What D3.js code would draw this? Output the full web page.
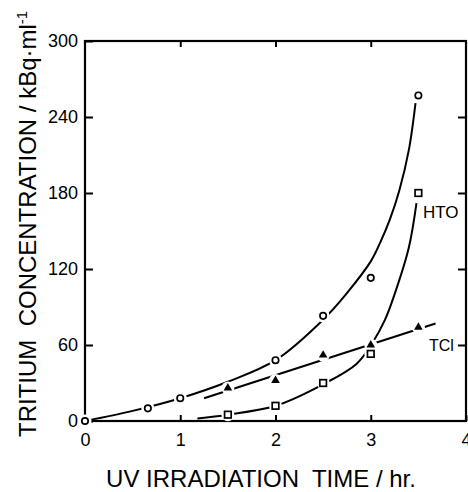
<!DOCTYPE html>
<html>
<head>
<meta charset="utf-8">
<script src="https://cdn.jsdelivr.net/npm/d3@7"></script>
<style>
  body { margin: 0; background: #fff; }
  text { font-family: "Liberation Sans", Arial, sans-serif; fill: #000; }
</style>
</head>
<body>
<div id="chart"></div>
<script>
// measured points (circles = total, squares = HTO, triangles = TCl)
const totalTime = [0, 0.66, 1, 2, 2.5, 3, 3.5];
const totalConc = [0, 10, 18, 48, 83, 113, 257];
const htoTime = [1.5, 2, 2.5, 3, 3.5];
const htoConc = [5, 12, 30, 53, 180];
const tclTime = [1.5, 2, 2.5, 3, 3.5];
const tclConc = [26, 32, 52, 60, 74];

// hand drawn fitted curves
const totalCurveX = [0, 0.5, 1, 1.5, 2, 2.5, 2.75, 3, 3.1, 3.2, 3.3, 3.4, 3.47];
const totalCurveY = [0, 8, 18, 31, 48, 80, 101, 126, 141, 159, 182, 214, 251];
const htoCurveX = [1.18, 1.5, 2, 2.5, 2.85, 3.02, 3.15, 3.25, 3.4, 3.48];
const htoCurveY = [2, 5, 12, 29, 45, 62, 80, 100, 137, 172];
const tclLineX = [1.25, 3.68];
const tclLineY = [18, 77];

const xTicks = [0, 1, 2, 3, 4];
const yTicks = [0, 60, 120, 180, 240, 300];

const W = 468, H = 492;
const svg = d3.select("#chart").append("svg")
  .attr("width", W).attr("height", H)
  .style("background", "#fff");

// scales
const x = d3.scaleLinear().domain([0, 4]).range([85, 466]);
const y = d3.scaleLinear().domain([0, 300]).range([421, 41]);

// frame
svg.append("rect")
  .attr("x", x(0)).attr("y", y(300))
  .attr("width", x(4) - x(0)).attr("height", y(0) - y(300))
  .attr("fill", "none").attr("stroke", "#000").attr("stroke-width", 2.2);

// axes, ticks point inward
function styleAxis(g) {
  g.select(".domain").remove();
  g.selectAll("line").attr("stroke", "#000").attr("stroke-width", 2);
  g.selectAll("text").style("font-size", "18px").style("font-family", "Liberation Sans, Arial, sans-serif");
}
svg.append("g")
  .attr("transform", `translate(0,${y(0)})`)
  .call(d3.axisBottom(x).tickValues(xTicks).tickSize(-6).tickPadding(12).tickFormat(d3.format("d")))
  .call(styleAxis);
svg.append("g")
  .attr("transform", `translate(${x(0)},0)`)
  .call(d3.axisLeft(y).tickValues(yTicks).tickSize(-8).tickPadding(7).tickFormat(d3.format("d")))
  .call(styleAxis);
svg.append("g")
  .attr("transform", `translate(0,${y(300)})`)
  .call(d3.axisTop(x).tickValues(xTicks.slice(1, 4)).tickSize(-6).tickFormat(""))
  .call(styleAxis);
svg.append("g")
  .attr("transform", `translate(${x(4)},0)`)
  .call(d3.axisRight(y).tickValues(yTicks.slice(1, 5)).tickSize(-8).tickFormat(""))
  .call(styleAxis);

// curves
const line = d3.line().x(d => x(d[0])).y(d => y(d[1])).curve(d3.curveCatmullRom.alpha(0.5));
const straight = d3.line().x(d => x(d[0])).y(d => y(d[1]));

svg.append("path")
  .datum(d3.zip(totalCurveX, totalCurveY))
  .attr("d", line)
  .attr("fill", "none").attr("stroke", "#000").attr("stroke-width", 2);
svg.append("path")
  .datum(d3.zip(htoCurveX, htoCurveY))
  .attr("d", line)
  .attr("fill", "none").attr("stroke", "#000").attr("stroke-width", 2);
svg.append("path")
  .datum(d3.zip(tclLineX, tclLineY))
  .attr("d", straight)
  .attr("fill", "none").attr("stroke", "#000").attr("stroke-width", 2);

// white gaps round the markers
const allPts = d3.zip(totalTime, totalConc)
  .concat(d3.zip(htoTime, htoConc))
  .concat(d3.zip(tclTime, tclConc));
svg.selectAll(".halo")
  .data(allPts)
  .enter()
  .append("circle")
    .attr("cx", d => x(d[0]))
    .attr("cy", d => y(d[1]))
    .attr("r", 6.5)
    .attr("fill", "#fff");

// markers
svg.selectAll(".total")
  .data(d3.zip(totalTime, totalConc))
  .enter()
  .append("circle")
    .attr("cx", d => x(d[0]))
    .attr("cy", d => y(d[1]))
    .attr("r", 3.2)
    .attr("fill", "#fff").attr("stroke", "#000").attr("stroke-width", 1.7);

svg.selectAll(".hto")
  .data(d3.zip(htoTime, htoConc))
  .enter()
  .append("rect")
    .attr("x", d => x(d[0]) - 3.3)
    .attr("y", d => y(d[1]) - 3.3)
    .attr("width", 6.6).attr("height", 6.6)
    .attr("fill", "#fff").attr("stroke", "#000").attr("stroke-width", 1.7);

svg.selectAll(".tcl")
  .data(d3.zip(tclTime, tclConc))
  .enter()
  .append("path")
    .attr("transform", d => `translate(${x(d[0])},${y(d[1])})`)
    .attr("d", d3.symbol().type(d3.symbolTriangle).size(32))
    .attr("fill", "#000");

// series labels
svg.append("text").attr("x", 423).attr("y", 218)
  .style("font-size", "17px").text("HTO");
svg.append("text").attr("x", 429).attr("y", 351)
  .style("font-size", "16px").text("TCl");

// axis titles
svg.append("text")
  .attr("x", 261).attr("y", 487)
  .attr("text-anchor", "middle")
  .style("font-size", "24px")
  .text("UV IRRADIATION\u00a0 TIME / hr.");

const yTitle = svg.append("text")
  .attr("transform", "translate(36,437) rotate(-90)")
  .style("font-size", "24px");
yTitle.append("tspan").text("TRITIUM\u00a0 CONCENTRATION / kBq\u00b7ml");
yTitle.append("tspan").attr("dy", -9).style("font-size", "15px").text("-1");
</script>
</body>
</html>
